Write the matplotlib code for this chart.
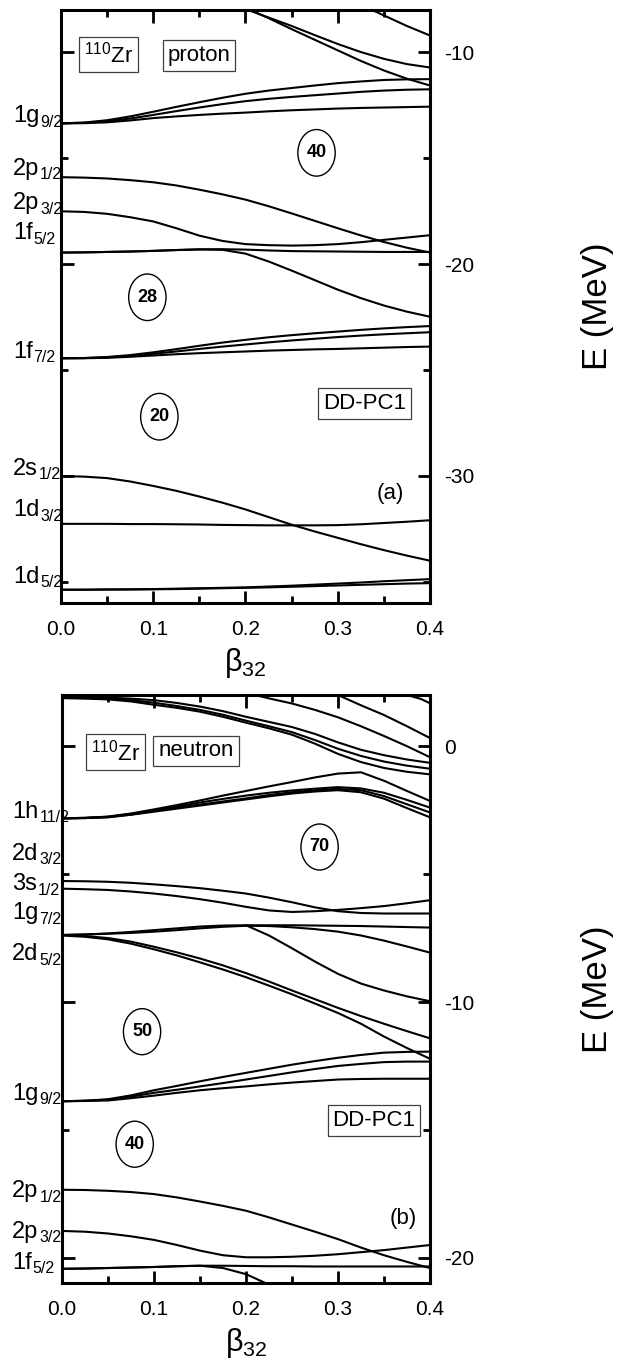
import matplotlib
matplotlib.use("Agg")
import matplotlib.pyplot as plt
from matplotlib.patches import Ellipse
from matplotlib.ticker import MultipleLocator

plt.rcParams['font.family'] = ['Liberation Sans', 'DejaVu Sans']
plt.rcParams['mathtext.fontset'] = 'custom'
plt.rcParams['mathtext.rm'] = 'Liberation Sans'
plt.rcParams['mathtext.default'] = 'regular'
plt.rcParams['axes.unicode_minus'] = False

beta = [0.0, 0.025, 0.05, 0.075, 0.1, 0.125, 0.15, 0.175, 0.2,
        0.225, 0.25, 0.275, 0.3, 0.325, 0.35, 0.375, 0.4]

# ---- (a) proton levels, MeV ----
p_1g_a = [-13.35, -13.31, -13.20, -13.02, -12.80, -12.57, -12.35, -12.14, -11.95,
          -11.80, -11.68, -11.56, -11.45, -11.37, -11.30, -11.27, -11.26]
p_1g_b = [-13.35, -13.32, -13.25, -13.12, -12.95, -12.77, -12.60, -12.44, -12.30,
          -12.19, -12.10, -12.02, -11.94, -11.86, -11.80, -11.76, -11.74]
p_1g_c = [-13.35, -13.34, -13.30, -13.21, -13.10, -13.02, -12.95, -12.89, -12.84,
          -12.78, -12.73, -12.69, -12.65, -12.62, -12.60, -12.58, -12.56]
p_2p1 = [-15.89, -15.91, -15.95, -16.03, -16.13, -16.28, -16.48, -16.70, -16.95,
         -17.26, -17.60, -17.95, -18.30, -18.64, -18.95, -19.22, -19.45]
p_2p3 = [-17.50, -17.53, -17.62, -17.78, -17.98, -18.30, -18.65, -18.90, -19.05,
         -19.10, -19.12, -19.10, -19.05, -18.96, -18.85, -18.74, -18.63]
p_1f5_a = [-19.45, -19.44, -19.42, -19.40, -19.37, -19.33, -19.30, -19.29, -19.31,
           -19.35, -19.38, -19.39, -19.40, -19.41, -19.42, -19.42, -19.42]
p_1f5_b = [-19.45, -19.44, -19.42, -19.40, -19.37, -19.33, -19.30, -19.32, -19.50,
           -19.87, -20.30, -20.75, -21.20, -21.60, -21.95, -22.24, -22.48]
p_1f7_a = [-24.44, -24.43, -24.38, -24.29, -24.16, -24.01, -23.85, -23.70, -23.57,
           -23.45, -23.35, -23.26, -23.18, -23.10, -23.03, -22.97, -22.92]
p_1f7_b = [-24.44, -24.43, -24.40, -24.33, -24.23, -24.12, -24.00, -23.89, -23.79,
           -23.69, -23.60, -23.52, -23.44, -23.37, -23.31, -23.26, -23.21]
p_1f7_c = [-24.44, -24.44, -24.42, -24.37, -24.31, -24.25, -24.20, -24.16, -24.12,
           -24.08, -24.05, -24.02, -24.00, -23.97, -23.94, -23.91, -23.89]
p_2s1 = [-30.00, -30.03, -30.10, -30.26, -30.47, -30.70, -30.97, -31.26, -31.58,
         -31.94, -32.30, -32.62, -32.92, -33.22, -33.50, -33.76, -34.00]
p_1d3 = [-32.26, -32.26, -32.26, -32.27, -32.27, -32.28, -32.29, -32.31, -32.32,
         -32.33, -32.33, -32.33, -32.32, -32.28, -32.22, -32.16, -32.09]
p_1d5_a = [-35.37, -35.37, -35.36, -35.35, -35.34, -35.32, -35.30, -35.28, -35.26,
           -35.22, -35.18, -35.13, -35.08, -35.03, -34.97, -34.92, -34.87]
p_1d5_b = [-35.37, -35.37, -35.36, -35.36, -35.35, -35.34, -35.32, -35.30, -35.28,
           -35.26, -35.23, -35.20, -35.17, -35.14, -35.11, -35.08, -35.06]
# levels coming down from above the window
p_hi_a_beta = [0.20, 0.225, 0.25, 0.275, 0.3, 0.325, 0.35, 0.375, 0.4]
p_hi_a = [-7.95, -8.35, -8.75, -9.18, -9.60, -9.98, -10.30, -10.55, -10.71]
p_hi_b_beta = [0.203, 0.225, 0.25, 0.275, 0.3, 0.325, 0.35, 0.375, 0.4]
p_hi_b = [-7.95, -8.38, -8.90, -9.40, -9.90, -10.40, -10.85, -11.24, -11.56]
p_hi_c_beta = [0.335, 0.35, 0.375, 0.4]
p_hi_c = [-7.95, -8.25, -8.75, -9.20]

p_lab_main = ['1g', '2p', '2p', '1f', '1f', '2s', '1d', '1d']
p_lab_sub = ['9/2', '1/2', '3/2', '5/2', '7/2', '1/2', '3/2', '5/2']
p_lab_e = [-13.30, -15.78, -17.41, -18.83, -24.42, -29.95, -31.90, -35.06]

p_magic = ['40', '28', '20']
p_magic_b = [0.277, 0.0936, 0.1066]
p_magic_e = [-14.74, -21.56, -27.20]

# ---- (b) neutron levels, MeV ----
n_t1 = [1.93, 1.92, 1.90, 1.86, 1.80, 1.69, 1.55, 1.37, 1.15,
        0.95, 0.75, 0.48, 0.15, -0.14, -0.35, -0.52, -0.65]
n_t2 = [1.90, 1.89, 1.86, 1.80, 1.70, 1.57, 1.42, 1.23, 1.00,
        0.78, 0.55, 0.24, -0.10, -0.38, -0.60, -0.76, -0.88]
n_t3 = [1.88, 1.86, 1.83, 1.75, 1.62, 1.50, 1.35, 1.15, 0.92,
        0.70, 0.45, 0.10, -0.30, -0.62, -0.85, -1.00, -1.10]
n_1h_a = [-2.82, -2.80, -2.75, -2.63, -2.47, -2.30, -2.12, -1.93, -1.75,
          -1.57, -1.40, -1.22, -1.07, -1.02, -1.35, -1.75, -2.14]
n_1h_b = [-2.82, -2.80, -2.76, -2.65, -2.50, -2.35, -2.20, -2.06, -1.93,
          -1.82, -1.73, -1.66, -1.60, -1.65, -1.82, -2.10, -2.40]
n_1h_c = [-2.82, -2.81, -2.77, -2.67, -2.53, -2.40, -2.28, -2.16, -2.04,
          -1.91, -1.80, -1.72, -1.67, -1.72, -1.95, -2.27, -2.59]
n_1h_d = [-2.82, -2.81, -2.78, -2.68, -2.56, -2.44, -2.32, -2.20, -2.08,
          -1.96, -1.85, -1.77, -1.72, -1.80, -2.05, -2.42, -2.78]
n_2d3 = [-5.27, -5.28, -5.30, -5.34, -5.40, -5.47, -5.55, -5.65, -5.76,
         -5.92, -6.10, -6.30, -6.45, -6.52, -6.54, -6.54, -6.54]
n_3s1 = [-5.57, -5.59, -5.62, -5.68, -5.76, -5.86, -5.98, -6.12, -6.28,
         -6.42, -6.48, -6.45, -6.40, -6.33, -6.25, -6.14, -6.02]
n_1g7_a = [-7.38, -7.36, -7.32, -7.26, -7.19, -7.12, -7.05, -7.01, -7.00,
           -7.00, -7.00, -7.01, -7.02, -7.03, -7.05, -7.07, -7.09]
n_1g7_b = [-7.38, -7.36, -7.33, -7.30, -7.25, -7.19, -7.12, -7.06, -7.02,
           -7.03, -7.08, -7.15, -7.25, -7.40, -7.60, -7.83, -8.07]
n_2d5_a = [-7.38, -7.42, -7.50, -7.64, -7.84, -8.06, -8.30, -8.57, -8.87,
           -9.20, -9.55, -9.89, -10.23, -10.55, -10.85, -11.14, -11.42]
n_2d5_b = [-7.40, -7.45, -7.55, -7.72, -7.94, -8.18, -8.45, -8.73, -9.03,
           -9.36, -9.70, -10.06, -10.43, -10.85, -11.35, -11.80, -12.22]
n_1g9_a = [-13.88, -13.86, -13.80, -13.65, -13.45, -13.28, -13.10, -12.93, -12.77,
           -12.61, -12.45, -12.31, -12.18, -12.07, -11.98, -11.95, -11.94]
n_1g9_b = [-13.88, -13.86, -13.82, -13.70, -13.55, -13.43, -13.30, -13.17, -13.03,
           -12.89, -12.75, -12.62, -12.50, -12.42, -12.35, -12.33, -12.33]
n_1g9_c = [-13.88, -13.87, -13.85, -13.76, -13.66, -13.55, -13.45, -13.37, -13.30,
           -13.22, -13.15, -13.09, -13.03, -13.01, -13.00, -13.00, -13.00]
n_2p1 = [-17.34, -17.35, -17.38, -17.43, -17.51, -17.64, -17.80, -17.97, -18.16,
         -18.42, -18.70, -18.98, -19.27, -19.60, -19.90, -20.16, -20.40]
n_2p3 = [-18.95, -18.98, -19.05, -19.16, -19.30, -19.50, -19.72, -19.90, -19.98,
         -19.98, -19.96, -19.92, -19.86, -19.78, -19.70, -19.60, -19.50]
n_1f5_a = [-20.43, -20.42, -20.40, -20.38, -20.36, -20.33, -20.31, -20.31, -20.32,
           -20.33, -20.33, -20.34, -20.34, -20.34, -20.34, -20.34, -20.34]
n_1f5_b_beta = [0.0, 0.025, 0.05, 0.075, 0.1, 0.125, 0.15, 0.175, 0.2, 0.225]
n_1f5_b = [-20.43, -20.42, -20.40, -20.38, -20.36, -20.33, -20.31, -20.40, -20.64, -21.05]
n_1g7_c_beta = [0.2, 0.225, 0.25, 0.275, 0.3, 0.325, 0.35, 0.375, 0.4]
n_1g7_c = [-7.00, -7.40, -7.90, -8.42, -8.90, -9.28, -9.55, -9.78, -9.97]
n_hi_a_beta = [0.21, 0.225, 0.25, 0.275, 0.3, 0.325, 0.35, 0.375, 0.4]
n_hi_a = [2.00, 1.87, 1.67, 1.42, 1.13, 0.78, 0.40, 0.00, -0.43]
n_hi_b_beta = [0.30, 0.325, 0.35, 0.375, 0.4]
n_hi_b = [2.00, 1.60, 1.22, 0.78, 0.32]
n_hi_c_beta = [0.375, 0.39, 0.4]
n_hi_c = [2.00, 1.85, 1.68]

n_lab_main = ['1h', '2d', '3s', '1g', '2d', '1g', '2p', '2p', '1f']
n_lab_sub = ['11/2', '3/2', '1/2', '7/2', '5/2', '9/2', '1/2', '3/2', '5/2']
n_lab_e = [-2.80, -4.43, -5.64, -6.77, -8.37, -13.83, -17.64, -19.23, -20.44]

n_magic = ['70', '50', '40']
n_magic_b = [0.280, 0.087, 0.079]
n_magic_e = [-3.94, -11.16, -15.56]

proton_curves = [
    (beta, p_1g_a), (beta, p_1g_b), (beta, p_1g_c), (beta, p_2p1), (beta, p_2p3),
    (beta, p_1f5_a), (beta, p_1f5_b), (beta, p_1f7_a), (beta, p_1f7_b), (beta, p_1f7_c),
    (beta, p_2s1), (beta, p_1d3), (beta, p_1d5_a), (beta, p_1d5_b),
    (p_hi_a_beta, p_hi_a), (p_hi_b_beta, p_hi_b), (p_hi_c_beta, p_hi_c),
]
neutron_curves = [
    (beta, n_t1), (beta, n_t2), (beta, n_t3),
    (beta, n_1h_a), (beta, n_1h_b), (beta, n_1h_c), (beta, n_1h_d),
    (beta, n_2d3), (beta, n_3s1), (beta, n_1g7_a), (beta, n_1g7_b),
    (beta, n_2d5_a), (beta, n_2d5_b), (beta, n_1g9_a), (beta, n_1g9_b), (beta, n_1g9_c),
    (beta, n_2p1), (beta, n_2p3), (beta, n_1f5_a), (n_1f5_b_beta, n_1f5_b),
    (n_1g7_c_beta, n_1g7_c), (n_hi_a_beta, n_hi_a), (n_hi_b_beta, n_hi_b),
    (n_hi_c_beta, n_hi_c),
]


def boxed(ax, x, y, s):
    ax.text(x, y, s, transform=ax.transAxes, ha='center', va='center', fontsize=16,
            bbox=dict(boxstyle='square,pad=0.22', fc='white', ec='0.25', lw=0.9))


def draw_panel(ax, curves, ylim, mains, subs, es, xlab, magic, mb, me, ell_h):
    for b, e in curves:
        ax.plot(b, e, color='k', lw=1.5, solid_joinstyle='round')
    ax.set_xlim(0, 0.4)
    ax.set_ylim(*ylim)
    ax.xaxis.set_major_locator(MultipleLocator(0.1))
    ax.xaxis.set_minor_locator(MultipleLocator(0.05))
    ax.yaxis.set_major_locator(MultipleLocator(10))
    ax.yaxis.set_minor_locator(MultipleLocator(5))
    ax.tick_params(which='both', direction='in', top=True, right=True, width=2)
    ax.tick_params(which='major', length=9)
    ax.tick_params(which='minor', length=5)
    ax.tick_params(axis='y', labelleft=False, labelright=True, labelsize=15, pad=10)
    ax.tick_params(axis='x', labelsize=15, pad=12)
    for sp in ax.spines.values():
        sp.set_linewidth(2.2)

    ax.set_xlabel('β$_{32}$', fontsize=22)
    ax.xaxis.set_label_coords(0.5, -0.072)
    ax.yaxis.set_label_position('right')
    ax.set_ylabel('E (MeV)', fontsize=25)
    ax.yaxis.set_label_coords(1.41, 0.5)

    tr = ax.get_yaxis_transform()
    for m, s, e in zip(mains, subs, es):
        t = ax.text(xlab, e, m, transform=tr, fontsize=17, ha='left', va='baseline')
        ax.annotate(s, xy=(1, 0), xycoords=t, xytext=(0.5, 0.5),
                    textcoords='offset points', fontsize=11.5, ha='left', va='baseline')

    for s, b, e in zip(magic, mb, me):
        ax.add_patch(Ellipse((b, e), 0.0405, ell_h, fill=False, ec='k', lw=1.0))
        ax.text(b, e, s, ha='center', va='center', fontsize=13, fontweight='bold')


fig = plt.figure(figsize=(6.29, 13.65), dpi=100)
ax1 = fig.add_axes([0.097, 0.5582, 0.5866, 0.4344])
ax2 = fig.add_axes([0.0986, 0.0598, 0.585, 0.431])

draw_panel(ax1, proton_curves, (-36, -8), p_lab_main, p_lab_sub, p_lab_e, -0.13,
           p_magic, p_magic_b, p_magic_e, 2.2)
draw_panel(ax2, neutron_curves, (-21, 2), n_lab_main, n_lab_sub, n_lab_e, -0.135,
           n_magic, n_magic_b, n_magic_e, 1.8)

boxed(ax1, 0.128, 0.925, '$^{110}$Zr')
boxed(ax1, 0.374, 0.924, 'proton')
boxed(ax1, 0.823, 0.337, 'DD-PC1')
ax1.text(0.892, 0.184, '(a)', transform=ax1.transAxes, ha='center', va='center', fontsize=16)

boxed(ax2, 0.146, 0.903, '$^{110}$Zr')
boxed(ax2, 0.364, 0.905, 'neutron')
boxed(ax2, 0.848, 0.277, 'DD-PC1')
ax2.text(0.926, 0.110, '(b)', transform=ax2.transAxes, ha='center', va='center', fontsize=16)

fig.savefig('out.png', dpi=100)
